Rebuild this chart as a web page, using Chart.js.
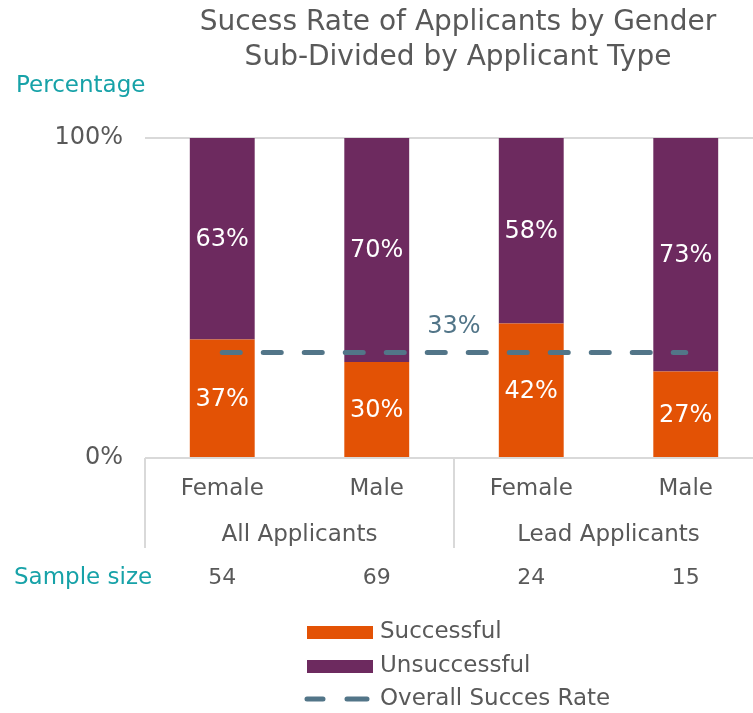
<!DOCTYPE html>
<html>
<head>
<meta charset="utf-8">
<script src="https://cdn.jsdelivr.net/npm/chart.js@4.4.0/dist/chart.umd.min.js"></script>
<style>
  html, body { margin: 0; padding: 0; overflow: hidden; background: #fff; }
  #wrap { width: 770px; height: 713px; }
</style>
</head>
<body>
<div id="wrap"><canvas id="c" width="770" height="713"></canvas></div>
<script>
const genders = ['Female', 'Male', 'Female', 'Male'];
const groups = ['All Applicants', 'Lead Applicants'];
const sampleSizes = [54, 69, 24, 15];
const successful = [37, 30, 42, 27];
const unsuccessful = [63, 70, 58, 73];
const overallRate = [33, 33, 33, 33];
const overallLabel = '33%';
const yTicks = [0, 100];
const titleLines = ['Sucess Rate of Applicants by Gender', 'Sub-Divided by Applicant Type'];

const FONT = '"DejaVu Sans", Verdana, sans-serif';
const GREY = '#595959';
const TEAL = '#17A2A8';
const ORANGE = '#E35205';
const PURPLE = '#6D2A5F';
const SLATE = '#527588';
const LINEGREY = '#D9D9D9';

const extras = {
  id: 'extras',
  afterDatasetsDraw(chart) {
    const ctx = chart.ctx;
    const x = chart.scales.x, y = chart.scales.y;
    ctx.save();
    ctx.font = '24px ' + FONT;
    ctx.fillStyle = '#FFFFFF';
    ctx.textAlign = 'center';
    ctx.textBaseline = 'middle';
    [1, 2].forEach(di => {
      const meta = chart.getDatasetMeta(di);
      meta.data.forEach((el, i) => {
        const v = chart.data.datasets[di].data[i];
        ctx.fillText(v + '%', el.x, (el.y + el.base) / 2 + 1);
      });
    });
    ctx.fillStyle = SLATE;
    ctx.fillText(overallLabel, x.getPixelForValue(1.5), y.getPixelForValue(overallRate[0]) - 26);
    ctx.restore();
  },
  afterDraw(chart) {
    const ctx = chart.ctx;
    const x = chart.scales.x, y = chart.scales.y;
    const area = chart.chartArea;
    ctx.save();
    ctx.fillStyle = GREY;
    ctx.textAlign = 'center';
    ctx.textBaseline = 'middle';
    ctx.font = '28px ' + FONT;
    titleLines.forEach((t, i) => ctx.fillText(t, 458, 23 + i * 35));
    ctx.fillStyle = TEAL;
    ctx.textAlign = 'left';
    ctx.font = '23px ' + FONT;
    ctx.fillText('Percentage', 16, 86);
    ctx.strokeStyle = LINEGREY;
    ctx.lineWidth = 2;
    ctx.beginPath();
    ctx.moveTo(area.left, area.bottom);
    ctx.lineTo(area.right, area.bottom);
    [-0.5, 1.5, 3.5].forEach(v => {
      const px = Math.round(x.getPixelForValue(v));
      ctx.moveTo(px, area.bottom);
      ctx.lineTo(px, area.bottom + 90);
    });
    ctx.stroke();
    ctx.fillStyle = GREY;
    ctx.textAlign = 'center';
    ctx.font = '23px ' + FONT;
    groups.forEach((g, gi) => {
      const cx = (x.getPixelForValue(gi * 2) + x.getPixelForValue(gi * 2 + 1)) / 2;
      ctx.fillText(g, cx, 535);
    });
    ctx.fillStyle = TEAL;
    ctx.textAlign = 'left';
    ctx.fillText('Sample size', 14, 578);
    ctx.fillStyle = GREY;
    ctx.textAlign = 'center';
    ctx.font = '22px ' + FONT;
    sampleSizes.forEach((s, i) => ctx.fillText(String(s), x.getPixelForValue(i), 578));
    const ds = chart.data.datasets;
    const lx = 307, tx = 380;
    const rows = [632, 666, 699];
    ctx.textAlign = 'left';
    ctx.font = '23px ' + FONT;
    ctx.fillStyle = ds[1].backgroundColor;
    ctx.fillRect(lx, rows[0] - 6, 66, 13);
    ctx.fillStyle = ds[2].backgroundColor;
    ctx.fillRect(lx, rows[1] - 6, 66, 13);
    ctx.strokeStyle = ds[0].borderColor;
    ctx.lineWidth = 5;
    ctx.lineCap = 'round';
    ctx.beginPath();
    ctx.moveTo(lx, rows[2]); ctx.lineTo(lx + 16, rows[2]);
    ctx.moveTo(lx + 40, rows[2]); ctx.lineTo(lx + 60, rows[2]);
    ctx.stroke();
    ctx.fillStyle = GREY;
    ds.slice(1).forEach((d, i) => ctx.fillText(d.label, tx, rows[i]));
    ctx.fillText(ds[0].label, tx, rows[2]);
    ctx.restore();
  }
};

new Chart(document.getElementById('c'), {
  data: {
    labels: genders,
    datasets: [
      {
        type: 'line', label: 'Overall Succes Rate', data: overallRate, stack: 'overall',
        borderColor: SLATE, borderWidth: 5, borderDash: [18, 23], borderCapStyle: 'round',
        pointRadius: 0, fill: false, order: 0
      },
      { type: 'bar', label: 'Successful', data: successful, backgroundColor: ORANGE, stack: 'bars', order: 1 },
      { type: 'bar', label: 'Unsuccessful', data: unsuccessful, backgroundColor: PURPLE, stack: 'bars', order: 1 }
    ]
  },
  options: {
    responsive: false,
    animation: false,
    layout: { padding: { top: 138, right: 7, left: 0, bottom: 0 } },
    datasets: { bar: { barPercentage: 0.42, categoryPercentage: 1 } },
    plugins: { legend: { display: false }, tooltip: { enabled: false }, title: { display: false } },
    scales: {
      x: {
        stacked: true,
        grid: { display: false, drawTicks: false },
        border: { display: false },
        ticks: { color: GREY, font: { family: FONT, size: 23 }, padding: 17, maxRotation: 0 },
        afterFit(s) { s.height = 255; }
      },
      y: {
        stacked: true, min: 0, max: 100,
        afterBuildTicks(s) { s.ticks = yTicks.map(v => ({ value: v })); },
        grid: { color: (c) => c.tick && c.tick.value === 100 ? LINEGREY : 'rgba(0,0,0,0)', lineWidth: 2, drawTicks: false },
        border: { display: false },
        ticks: { color: GREY, font: { family: FONT, size: 24 }, padding: 22, callback: v => v + '%' },
        afterFit(s) { s.width = 145; }
      }
    }
  },
  plugins: [extras]
});
</script>
</body>
</html>
